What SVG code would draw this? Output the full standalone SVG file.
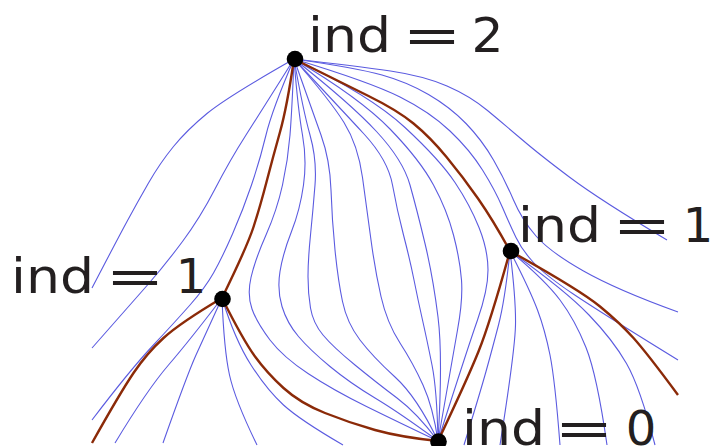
<svg xmlns="http://www.w3.org/2000/svg" width="714" height="446" viewBox="0 0 714 446">
<style>
.f{fill:none;stroke:#5b5be0;stroke-width:1.1}
.s{fill:none;stroke:#8b2a08;stroke-width:2.4}
.dot{fill:#000}
.lbl{font-family:"DejaVu Sans",sans-serif;font-size:48px;fill:#231f20}
</style>
<rect width="714" height="446" fill="#fff"/>
<g id="connectors">
<g id="flow-lines">
<path class="f" d="M294,59 Q227,97 207,113.5 Q187,130 173.5,146.5 Q160,163 148.5,183 Q137,203 127,221.5 Q117,240 92,288"/>
<path class="f" d="M294,59 Q262,110 246,135 Q230,160 215,189 Q200,218 182.5,241.5 Q165,265 147.5,285 Q130,305 92,348"/>
<path class="f" d="M294,59 Q272,110 266,135 Q260,160 251.5,185 Q243,210 232.5,234 Q222,258 213.5,273 Q205,288 190,305 Q175,322 152.5,346 Q130,370 92,420"/>
<path class="f" d="M294,59 Q292,110 290,135 Q288,160 282.5,185 Q277,210 266,235 Q255,260 251,277.5 Q247,295 252,309 Q257,323 270,340 Q283,357 308,373.5 Q333,390 366.5,406.5 Q400,423 438,441"/>
<path class="f" d="M294,59 Q298,110 302.5,135 Q307,160 303.5,185 Q300,210 291.5,231.5 Q283,253 280,271.5 Q277,290 282,306.5 Q287,323 298.5,336.5 Q310,350 330,366.5 Q350,383 375,398 Q400,413 438,441"/>
<path class="f" d="M294,59 Q303,110 310,135 Q317,160 315,185 Q313,210 310.5,235 Q308,260 308,276.5 Q308,293 310.5,308 Q313,323 323,335 Q333,347 355,365 Q377,383 397,398 Q417,413 438,441"/>
<path class="f" d="M294,59 Q312,110 321,135 Q330,160 331,190 Q332,220 335,250 Q338,280 342.5,301.5 Q347,323 360,340 Q373,357 395,377 Q417,397 438,441"/>
<path class="f" d="M294,59 Q330,100 344,122.5 Q358,145 362.5,177.5 Q367,210 371,240 Q375,270 381,296.5 Q387,323 400,343 Q413,363 423,385 Q433,407 438,441"/>
<path class="f" d="M294,59 Q340,108 364,134 Q388,160 392.5,185 Q397,210 403.5,235 Q410,260 414,280 Q418,300 422.5,320 Q427,340 432,365 Q437,390 438,441"/>
<path class="f" d="M294,59 Q350,103 376.5,131.5 Q403,160 410,185 Q417,210 425,243.5 Q433,277 438,317 Q443,357 438,441"/>
<path class="f" d="M294,59 Q360,98 390,129 Q420,160 433.5,185 Q447,210 453.5,235 Q460,260 461.5,280 Q463,300 457.5,330 Q452,360 438,441"/>
<path class="f" d="M294,59 Q370,95 405,127.5 Q440,160 455,182.5 Q470,205 479,227.5 Q488,250 488,270 Q488,290 477.5,320 Q467,350 438,441"/>
<path class="f" d="M294,59 Q357,66 390.5,71 Q424,76 447,86 Q470,96 487.5,110.5 Q505,125 522.5,140 Q540,155 570,177.5 Q600,200 667,240"/>
<path class="f" d="M294,59 Q357,68 382,75 Q407,82 428.5,94.5 Q450,107 466,123.5 Q482,140 493.5,160 Q505,180 513.5,200 Q522,220 536,236 Q550,252 583.5,271 Q617,290 678,312"/>
<path class="f" d="M294,59 Q370,82 400,97 Q430,112 450,131 Q470,150 482.5,170 Q495,190 502.5,207.5 Q510,225 516,237.5 Q522,250 533.5,262.5 Q545,275 572.5,293.5 Q600,312 678,360"/>
<path class="f" d="M510,251 Q505,300 498.5,325 Q492,350 486,371.5 Q480,393 464,445"/>
<path class="f" d="M510,251 Q516,300 515.5,325 Q515,350 500,445"/>
<path class="f" d="M510,251 Q530,290 537.5,310 Q545,330 550,355 Q555,380 560,445"/>
<path class="f" d="M510,251 Q545,280 560,300 Q575,320 586,347.5 Q597,375 607,445"/>
<path class="f" d="M510,251 Q565,290 589,315 Q613,340 626.5,363.5 Q640,387 655,445"/>
<path class="f" d="M222,298 Q190,340 168.5,365 Q147,390 115,443"/>
<path class="f" d="M222,298 Q205,335 196,355 Q187,375 163,443"/>
<path class="f" d="M222,298 Q224,350 229.5,375 Q235,400 257,445"/>
<path class="f" d="M222,298 Q235,340 251,365 Q267,390 283.5,405 Q300,420 343,445"/>
</g>
<g id="separatrices">
<path class="s" d="M294,59 Q287,107 280,132 Q273,157 266.5,182 Q260,207 253.5,227 Q247,247 222,298"/>
<path class="s" d="M222,298 Q180,323 163.5,338 Q147,353 133.5,373 Q120,393 92,443"/>
<path class="s" d="M222,298 Q243,340 255,356.5 Q267,373 283.5,388 Q300,403 325,413 Q350,423 375,430 Q400,437 438,441"/>
<path class="s" d="M438,441 Q467,380 478.5,351.5 Q490,323 510,251"/>
<path class="s" d="M294,59 Q340,82 368.5,96 Q397,110 413.5,123.5 Q430,137 446.5,157 Q463,177 478,198.5 Q493,220 510,251"/>
<path class="s" d="M510,251 Q580,290 600,306.5 Q620,323 633.5,338 Q647,353 678,395"/>
</g>
</g>
<g id="node-max">
<circle class="dot" cx="295" cy="59" r="8.3"/>
<text class="lbl" x="308" y="52" textLength="83" lengthAdjust="spacingAndGlyphs">ind</text>
<text class="lbl" x="402.5" y="52" textLength="59" lengthAdjust="spacingAndGlyphs">=</text>
<text class="lbl" x="471.5" y="52" textLength="32" lengthAdjust="spacingAndGlyphs">2</text>
</g>
<g id="node-saddle-left">
<circle class="dot" cx="222.5" cy="299" r="8.3"/>
<text class="lbl" x="11" y="293" textLength="83" lengthAdjust="spacingAndGlyphs">ind</text>
<text class="lbl" x="105.5" y="293" textLength="59" lengthAdjust="spacingAndGlyphs">=</text>
<text class="lbl" x="175.7" y="293">1</text>
</g>
<g id="node-saddle-right">
<circle class="dot" cx="511" cy="251" r="8.3"/>
<text class="lbl" x="518" y="242" textLength="83" lengthAdjust="spacingAndGlyphs">ind</text>
<text class="lbl" x="612.5" y="242" textLength="59" lengthAdjust="spacingAndGlyphs">=</text>
<text class="lbl" x="682.7" y="242">1</text>
</g>
<g id="node-min">
<circle class="dot" cx="438.5" cy="441.5" r="8.3"/>
<text class="lbl" x="462" y="445" textLength="83" lengthAdjust="spacingAndGlyphs">ind</text>
<text class="lbl" x="554.5" y="445" textLength="59" lengthAdjust="spacingAndGlyphs">=</text>
<text class="lbl" x="625.8" y="445">0</text>
</g>
</svg>
